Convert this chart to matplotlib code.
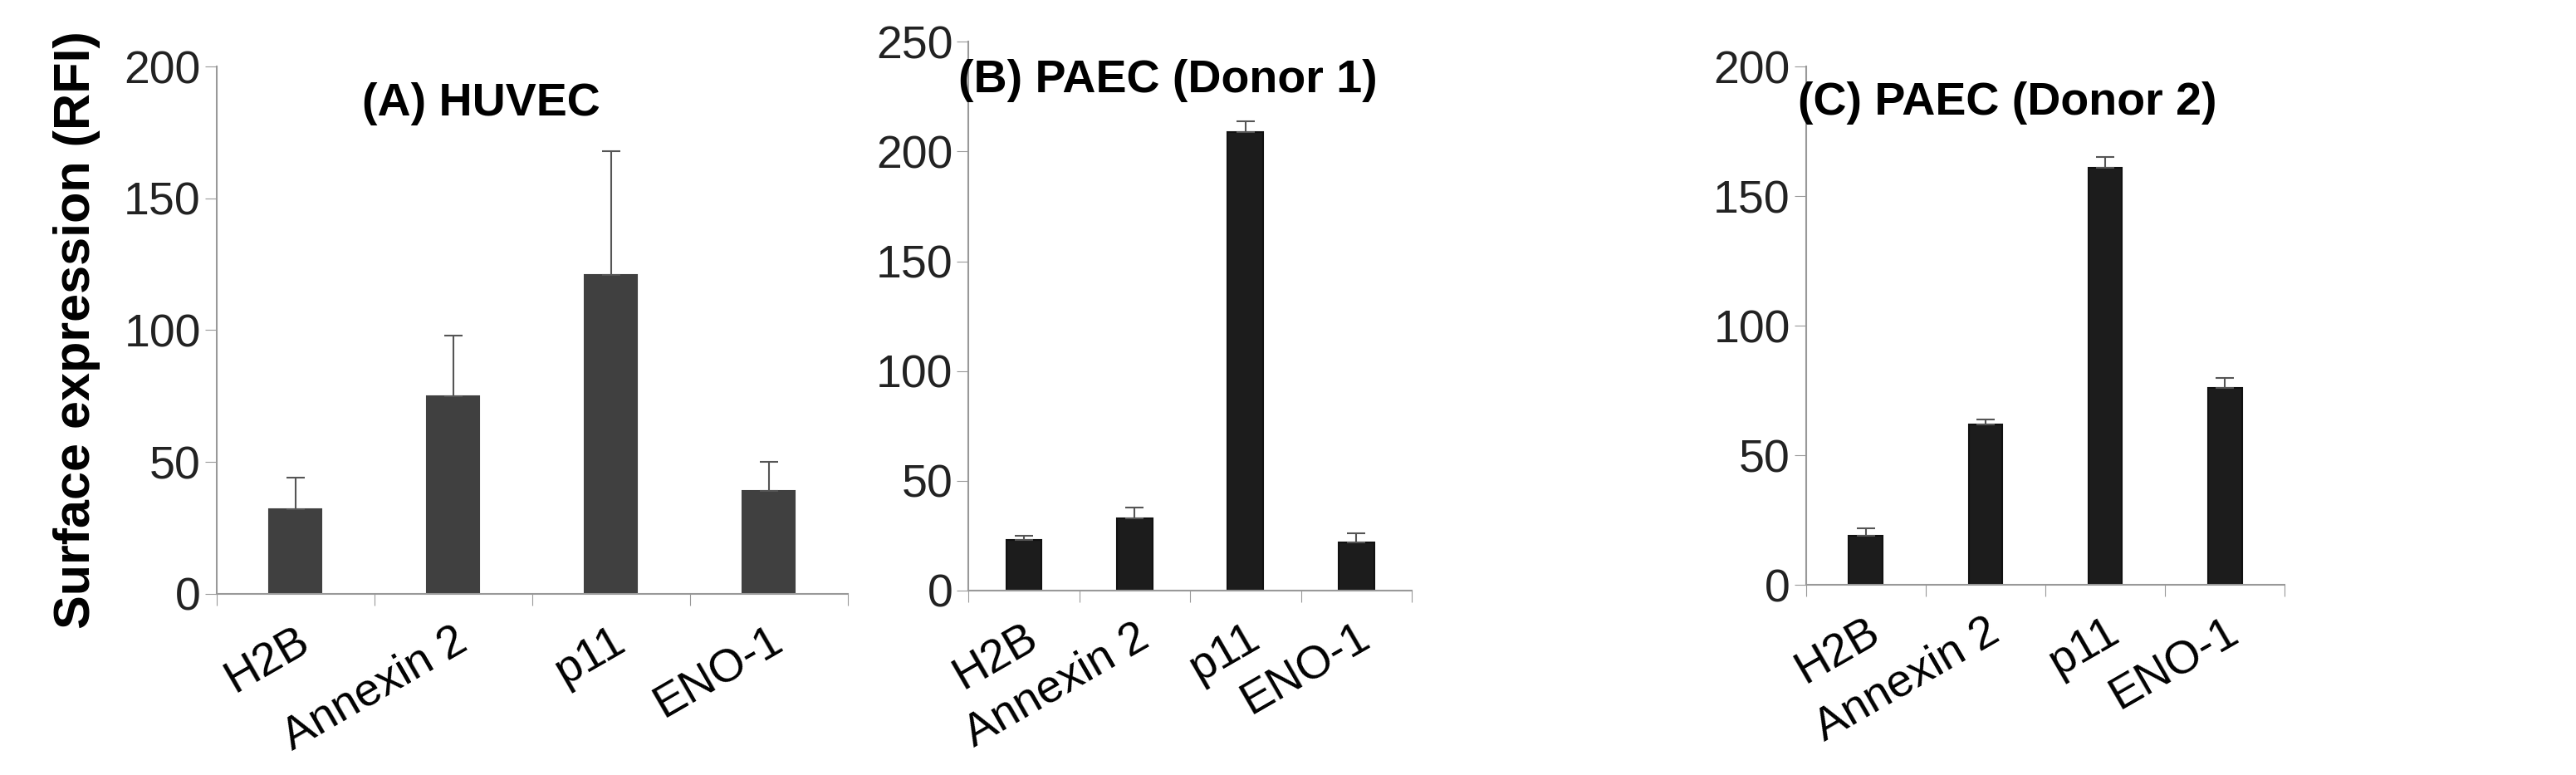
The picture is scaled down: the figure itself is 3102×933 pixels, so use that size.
import matplotlib
matplotlib.use("Agg")
import matplotlib.pyplot as plt
import numpy as np

cats = ["H2B", "Annexin 2", "p11", "ENO-1"]
a_vals = [32, 75, 121, 39]; a_err = [12, 23, 47, 11]
b_vals = [23, 33, 209, 22]; b_err = [2, 5, 5, 4]
c_vals = [19, 62, 161, 76]; c_err = [3, 2, 4, 4]
titles = ["(A) HUVEC", "(B) PAEC (Donor 1)", "(C) PAEC (Donor 2)"]
ylims = [200, 250, 200]

plt.rcParams['font.family'] = ['Liberation Sans', 'DejaVu Sans']
fig = plt.figure(figsize=(31.02, 9.33), dpi=100)
rects = [[0.084, 0.234, 0.245, 0.68], [0.376, 0.238, 0.172, 0.708], [0.701, 0.245, 0.186, 0.669]]
data = [(a_vals, a_err), (b_vals, b_err), (c_vals, c_err)]
colors = ["#404040", "#1c1c1c", "#1c1c1c"]
widths = [0.33, 0.32, 0.28]
tpos = [(0.42, 0.93), (0.45, 0.93), (0.42, 0.93)]
for i, ax in enumerate([fig.add_axes(r) for r in rects]):
    v, e = data[i]
    x = np.arange(len(cats))
    ax.bar(x, v, width=widths[i], color=colors[i], edgecolor="#111111" if i else colors[i], linewidth=1.5,
           yerr=[np.zeros(len(e)), e], error_kw=dict(ecolor="#555555", elinewidth=1.5, capsize=8, capthick=1.5))
    ax.set_xlim(-0.5, 3.5)
    ax.set_ylim(0, ylims[i])
    ax.set_yticks(np.arange(0, ylims[i] + 1, 50))
    ax.set_xticks(np.arange(-0.5, 4, 1))
    ax.set_xticklabels([])
    ax.set_xticks(x, minor=True)
    ax.set_xticklabels(cats, minor=True, rotation=30, ha="right", rotation_mode="anchor", fontsize=40)
    ax.tick_params(axis="x", which="minor", length=0, pad=22)
    ax.tick_params(axis="x", which="major", length=10, color="#999999", direction="out")
    ax.tick_params(axis="y", labelsize=40, length=10, color="#999999", colors="#222222")
    for s in ["top", "right"]:
        ax.spines[s].set_visible(False)
    for s in ["left", "bottom"]:
        ax.spines[s].set_color("#999999"); ax.spines[s].set_linewidth(1.5)
    ax.text(tpos[i][0], tpos[i][1], titles[i], transform=ax.transAxes, ha="center", va="center",
            fontsize=40, fontweight="bold")
    if i == 0:
        ax.set_ylabel("Surface expression (RFI)", fontsize=44, fontweight="bold", labelpad=20)
fig.savefig("out.png", dpi=100, facecolor="white")
